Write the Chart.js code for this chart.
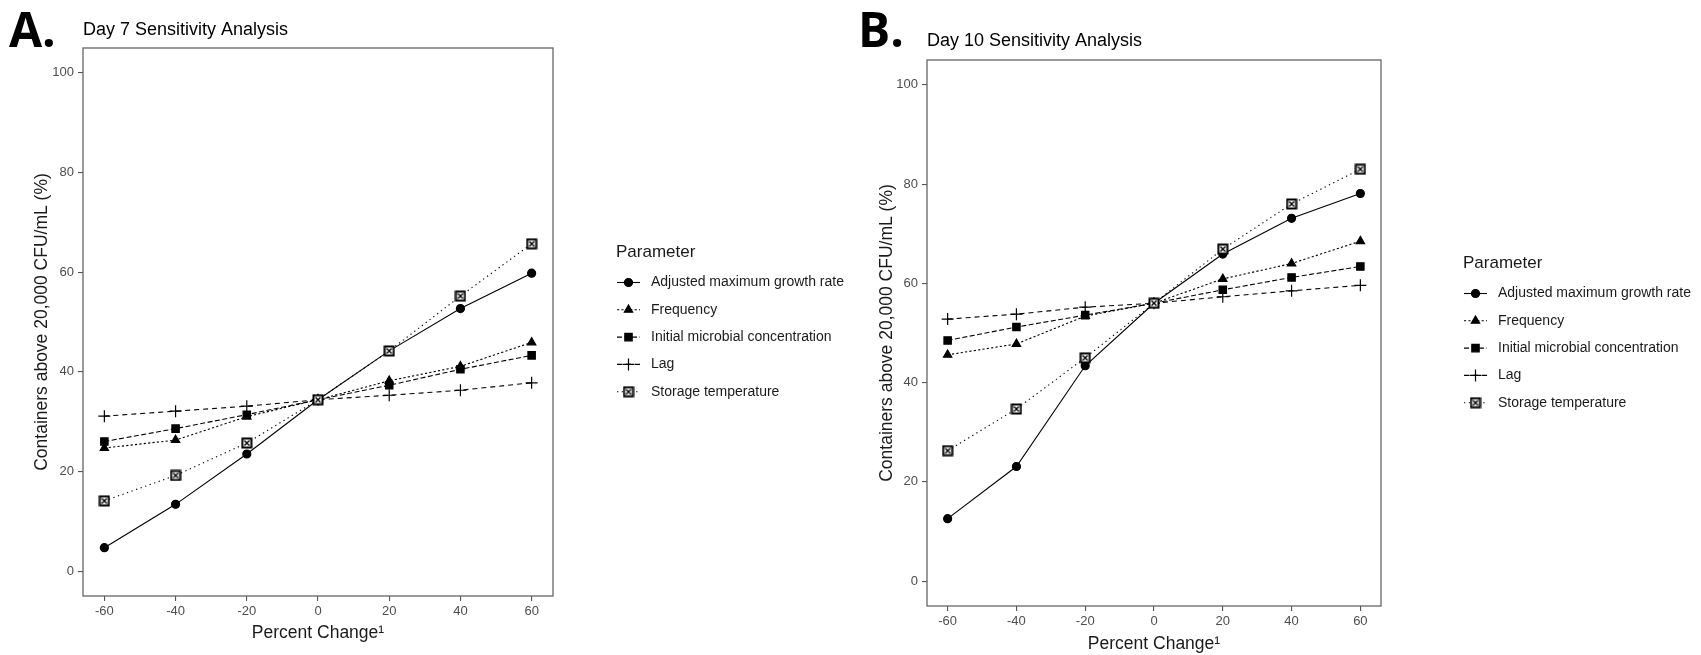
<!DOCTYPE html>
<html>
<head>
<meta charset="utf-8">
<script src="https://cdn.jsdelivr.net/npm/chart.js@4.4.0/dist/chart.umd.min.js"></script>
<style>
  html, body { margin: 0; padding: 0; background: #fff; }
  body { width: 1701px; height: 655px; position: relative; overflow: hidden; }
  .wrap { position: absolute; top: 0; height: 655px; }
  .tag { position: absolute; top: 5px; font: 700 48px "Open Sans", "DejaVu Sans", sans-serif; line-height: 1; color: #000; }
</style>
</head>
<body>
<div class="wrap" style="left:0;width:850px"><canvas id="chartA"></canvas></div>
<div class="wrap" style="left:850px;width:851px"><canvas id="chartB"></canvas></div>
<div class="tag" style="left:9px">A.</div>
<div class="tag" style="left:858px">B.</div>
<script>
// x values and tick labels
const pctChange = [-60, -40, -20, 0, 20, 40, 60];
const xTicks = [-60, -40, -20, 0, 20, 40, 60];
const yTicks = [0, 20, 40, 60, 80, 100];
const parameters = ['Adjusted maximum growth rate', 'Frequency', 'Initial microbial concentration', 'Lag', 'Storage temperature'];
const legendTitle = 'Parameter';

// Day 7 (% containers above 20,000 CFU/mL)
const day7Growth    = [4.7, 13.4, 23.5, 34.4, 44.2, 52.7, 59.8];
const day7Frequency = [24.7, 26.3, 31.0, 34.4, 38.2, 41.1, 45.9];
const day7Initial   = [26.0, 28.6, 31.4, 34.4, 37.3, 40.5, 43.3];
const day7Lag       = [31.1, 32.1, 33.1, 34.4, 35.3, 36.3, 37.8];
const day7Storage   = [14.1, 19.2, 25.7, 34.4, 44.2, 55.2, 65.7];

// Day 10
const day10Growth    = [12.6, 23.1, 43.4, 56.0, 65.9, 73.1, 78.1];
const day10Frequency = [45.6, 47.8, 53.4, 56.0, 60.9, 64.0, 68.5];
const day10Initial   = [48.5, 51.2, 53.6, 56.0, 58.7, 61.2, 63.4];
const day10Lag       = [52.8, 53.8, 55.2, 56.0, 57.3, 58.5, 59.6];
const day10Storage   = [26.3, 34.7, 45.0, 56.0, 66.9, 76.0, 83.0];

const FONT = '"Liberation Sans", Arial, sans-serif';

// square with an x inside (ggplot shape 7)
function makeBoxCross() {
  const c = document.createElement('canvas');
  c.width = 12; c.height = 12;
  const g = c.getContext('2d');
  g.fillStyle = '#fff';
  g.fillRect(1, 1, 10, 10);
  g.strokeStyle = '#000';
  g.lineWidth = 2;
  g.strokeRect(1.5, 1.5, 9, 9);
  g.lineWidth = 1.4;
  g.beginPath();
  g.moveTo(3.5, 3.5); g.lineTo(8.5, 8.5);
  g.moveTo(8.5, 3.5); g.lineTo(3.5, 8.5);
  g.stroke();
  return c;
}

const styles = [
  { pointStyle: 'circle', radius: 4, dash: [] },
  { pointStyle: 'triangle', radius: 4.8, dash: [2.2, 2.2] },
  { pointStyle: 'rect', radius: 5.2, dash: [5, 2.5] },
  { pointStyle: 'cross', radius: 6, dash: [5, 4] },
  { pointStyle: makeBoxCross(), radius: 5, dash: [1.3, 3.5] }
];

// panel border
const panelBox = {
  id: 'panelBox',
  afterDatasetsDraw(chart) {
    const { ctx, chartArea: a } = chart;
    ctx.save();
    ctx.strokeStyle = '#666';
    ctx.lineWidth = 1.3;
    ctx.strokeRect(a.left, a.top, a.right - a.left, a.bottom - a.top);
    ctx.restore();
  }
};

// ggplot-like legend with line + marker keys
const ggLegend = {
  id: 'ggLegend',
  afterDraw(chart, args, opts) {
    const { ctx, chartArea } = chart;
    const x0 = chartArea.right + opts.offsetX;
    const cy = (chartArea.top + chartArea.bottom) / 2;
    ctx.save();
    ctx.textBaseline = 'middle';
    ctx.textAlign = 'left';
    ctx.fillStyle = '#1a1a1a';
    ctx.font = '17px ' + FONT;
    ctx.fillText(opts.title, x0, cy - 69.5);
    ctx.font = '14px ' + FONT;
    chart.data.datasets.forEach((ds, i) => {
      const y = cy - 39.5 + i * 27.3;
      ctx.strokeStyle = '#000';
      ctx.lineWidth = ds.borderWidth;
      ctx.setLineDash(ds.borderDash);
      ctx.beginPath();
      ctx.moveTo(x0 + 1, y);
      ctx.lineTo(x0 + 24, y);
      ctx.stroke();
      ctx.setLineDash([]);
      ctx.fillStyle = '#000';
      ctx.lineWidth = ds.pointBorderWidth;
      Chart.helpers.drawPoint(ctx, {
        pointStyle: ds.pointStyle, radius: ds.pointRadius, rotation: 0, borderWidth: ds.pointBorderWidth
      }, x0 + 12.5, y);
      ctx.fillStyle = '#1a1a1a';
      ctx.fillText(ds.label, x0 + 35, y);
    });
    ctx.restore();
  }
};

function buildChart(id, title, series, L) {
  const datasets = series.map((vals, i) => ({
    label: parameters[i],
    data: vals.map((v, j) => ({ x: pctChange[j], y: v })),
    borderColor: '#000',
    backgroundColor: '#000',
    borderWidth: 1.1,
    borderDash: styles[i].dash,
    pointStyle: styles[i].pointStyle,
    pointRadius: styles[i].radius,
    pointBorderWidth: 1.2,
    pointBorderColor: '#000',
    pointBackgroundColor: '#000',
    tension: 0,
    fill: false,
    order: series.length - i
  }));

  new Chart(document.getElementById(id), {
    type: 'line',
    data: { datasets },
    plugins: [panelBox, ggLegend],
    options: {
      responsive: true,
      maintainAspectRatio: false,
      animation: false,
      devicePixelRatio: 1,
      events: [],
      layout: { padding: { left: 20, top: 10, right: L.right, bottom: L.bottom } },
      plugins: {
        legend: { display: false },
        tooltip: { enabled: false },
        title: {
          display: true,
          text: title,
          align: 'start',
          fullSize: false,
          color: '#000',
          font: { family: FONT, size: 18, weight: 'normal', lineHeight: 1.2 },
          padding: { top: L.titleTop, bottom: L.titleBottom }
        },
        ggLegend: { offsetX: L.legendX, title: legendTitle }
      },
      scales: {
        x: {
          type: 'linear',
          min: -66,
          max: 66,
          afterBuildTicks: s => { s.ticks = xTicks.map(v => ({ value: v })); },
          afterFit: s => { s.height = L.xAxisH; },
          grid: { drawOnChartArea: false, drawTicks: true, tickLength: 5, color: '#555', lineWidth: 1.1 },
          border: { display: false },
          ticks: { color: '#4d4d4d', font: { family: FONT, size: 13 }, padding: 3, autoSkip: false, maxRotation: 0 },
          title: {
            display: true,
            text: 'Percent Change\u00B9',
            color: '#1a1a1a',
            font: { family: FONT, size: 17.5, lineHeight: 1.2 },
            padding: { top: 0, bottom: L.xTitlePad }
          }
        },
        y: {
          type: 'linear',
          min: -5,
          max: 105,
          afterBuildTicks: s => { s.ticks = yTicks.map(v => ({ value: v })); },
          afterFit: s => { s.width = L.yAxisW; },
          grid: { drawOnChartArea: false, drawTicks: true, tickLength: 5, color: '#555', lineWidth: 1.1 },
          border: { display: false },
          ticks: { color: '#4d4d4d', font: { family: FONT, size: 13 }, padding: 4 },
          title: {
            display: true,
            text: 'Containers above 20,000 CFU/mL (%)',
            color: '#1a1a1a',
            font: { family: FONT, size: 17.5, lineHeight: 1.2 },
            padding: { top: L.yTitlePad, bottom: 0 }
          }
        }
      }
    }
  });
}

buildChart('chartA', 'Day 7 Sensitivity Analysis',
  [day7Growth, day7Frequency, day7Initial, day7Lag, day7Storage],
  { right: 297, bottom: 8, titleTop: 9.2, titleBottom: 7.2, xAxisH: 51, xTitlePad: 3.5, yAxisW: 63, yTitlePad: 11.5, legendX: 63 });

buildChart('chartB', 'Day 10 Sensitivity Analysis',
  [day10Growth, day10Frequency, day10Initial, day10Lag, day10Storage],
  { right: 320, bottom: 0, titleTop: 20.2, titleBottom: 8.2, xAxisH: 49, xTitlePad: 0, yAxisW: 57, yTitlePad: 6.5, legendX: 82 });
</script>
</body>
</html>
